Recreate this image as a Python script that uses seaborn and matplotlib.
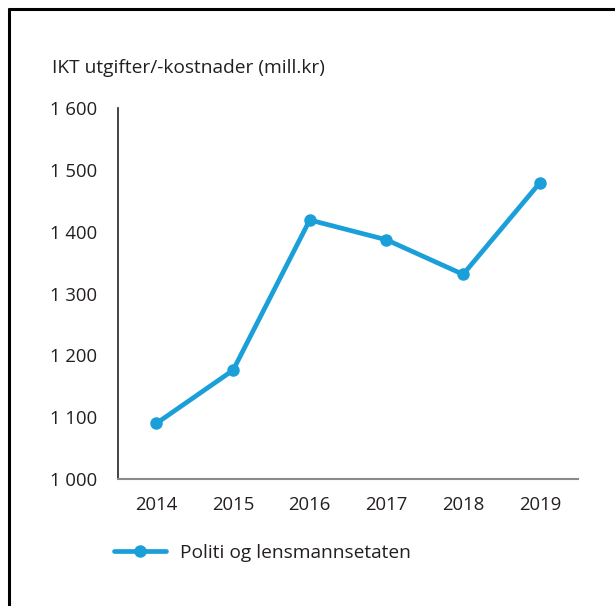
import matplotlib
matplotlib.use('Agg')
import matplotlib.pyplot as plt
import matplotlib.ticker as mticker
from matplotlib.lines import Line2D
import seaborn as sns
import pandas as pd

years = [2014, 2015, 2016, 2017, 2018, 2019]
costs = [1090, 1176, 1419, 1387, 1331, 1479]
series_name = "Politi og lensmannsetaten"
y_title = "IKT utgifter/-kostnader (mill.kr)"
y_ticks = [1000, 1100, 1200, 1300, 1400, 1500, 1600]

sns.set_theme(style='white')
plt.rcParams['font.family'] = ['Open Sans', 'DejaVu Sans']

df = pd.DataFrame({'year': years, 'cost': costs, 'series': series_name})

BLUE = '#1a9fd9'
TEXT = '#231f20'

fig = plt.figure(figsize=(6.15, 6.06), dpi=100)
ax = fig.add_axes([0.192, 0.2096, 0.748, 0.612])

sns.lineplot(data=df, x='year', y='cost', hue='series', palette=[BLUE],
             marker='o', markersize=9, markeredgewidth=0, linewidth=3.4, ax=ax)

ax.set_xlim(2013.5, 2019.5)
ax.set_ylim(1000, 1600)
ax.set_xticks(years)
ax.set_yticks(y_ticks)
ax.yaxis.set_major_formatter(mticker.FuncFormatter(lambda v, p: f"{int(v):,}".replace(',', ' ')))
ax.tick_params(axis='both', length=0, labelsize=13.3, colors=TEXT)
ax.tick_params(axis='y', pad=15)
ax.tick_params(axis='x', pad=12)
ax.set_xlabel('')
ax.set_ylabel('')

for s in ['top', 'right']:
    ax.spines[s].set_visible(False)
ax.spines['left'].set_color('#222222')
ax.spines['left'].set_linewidth(1.2)
ax.spines['bottom'].set_color('#8a8a8a')
ax.spines['bottom'].set_linewidth(1.5)

fig.text(52 / 615, 1 - 68 / 606, y_title, fontsize=13.8, color=TEXT, va='center', ha='left')

handles, labels = ax.get_legend_handles_labels()
ax.legend(handles, labels, loc='center left', bbox_to_anchor=(114 / 615, 1 - 553 / 606),
          bbox_transform=fig.transFigure, frameon=False, fontsize=13.8,
          borderpad=0, borderaxespad=0,
          handlelength=2.7, handletextpad=0.72, labelcolor=TEXT)

# outer frame (left and top edges)
fig.add_artist(Line2D([8.5 / 615, 8.5 / 615], [0, 1 - 8.5 / 606], color='black', linewidth=2.2))
fig.add_artist(Line2D([8.5 / 615, 1], [1 - 8.5 / 606, 1 - 8.5 / 606], color='black', linewidth=2.2))

plt.savefig('out.png', dpi=100)
plt.close()
